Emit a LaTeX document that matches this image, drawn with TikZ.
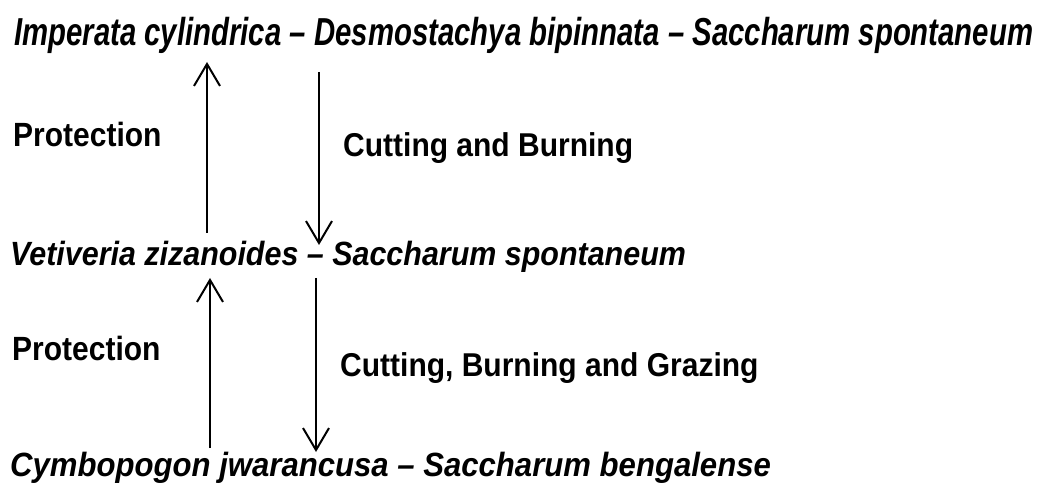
\documentclass[tikz,border=0pt]{standalone}
\usepackage{fontspec}
\usepackage{graphicx}
\setmainfont{Liberation Sans}
\usetikzlibrary{arrows.meta}
\tikzset{
  species/.style={inner sep=0pt, anchor=base west, font=\fontsize{30bp}{36bp}\selectfont\bfseries\itshape},
  lbl/.style={inner sep=0pt, anchor=base west, font=\fontsize{30bp}{36bp}\selectfont\bfseries},
  arr/.style={line width=2bp, -{Straight Barb[length=22bp,width=26bp,line width=2bp]}}
}
\begin{document}
\begin{tikzpicture}[x=1bp,y=-1bp]
\useasboundingbox (0,0) rectangle (1043,492);
\node[species] (top) at (14,46) {\scalebox{0.978}[1.3]{Imperata cylindrica -- Desmostachya bipinnata -- Saccharum spontaneum}};
\node[species] (mid) at (10,266) {\scalebox{1.015}[1.12]{Vetiveria zizanoides -- Saccharum spontaneum}};
\node[species] (bot) at (10,476) {\scalebox{1.037}[1.12]{Cymbopogon jwarancusa -- Saccharum bengalense}};
\node[lbl] (p1) at (13,147) {\scalebox{1}[1.12]{Protection}};
\node[lbl] (c1) at (343,157) {\scalebox{1}[1.1]{Cutting and Burning}};
\node[lbl] (p2) at (12,361) {\scalebox{1}[1.12]{Protection}};
\node[lbl] (c2) at (340,377) {\scalebox{1}[1.1]{Cutting, Burning and Grazing}};
\coordinate (u1s) at (207,233);
\coordinate (u1e) at (207,62);
\coordinate (d1s) at (319,72);
\coordinate (d1e) at (319,245);
\coordinate (u2s) at (210,448);
\coordinate (u2e) at (210,278);
\coordinate (d2s) at (316,278);
\coordinate (d2e) at (316,452);
\draw[arr] (u1s) -- (u1e);
\draw[arr] (d1s) -- (d1e);
\draw[arr] (u2s) -- (u2e);
\draw[arr] (d2s) -- (d2e);
\end{tikzpicture}
\end{document}
